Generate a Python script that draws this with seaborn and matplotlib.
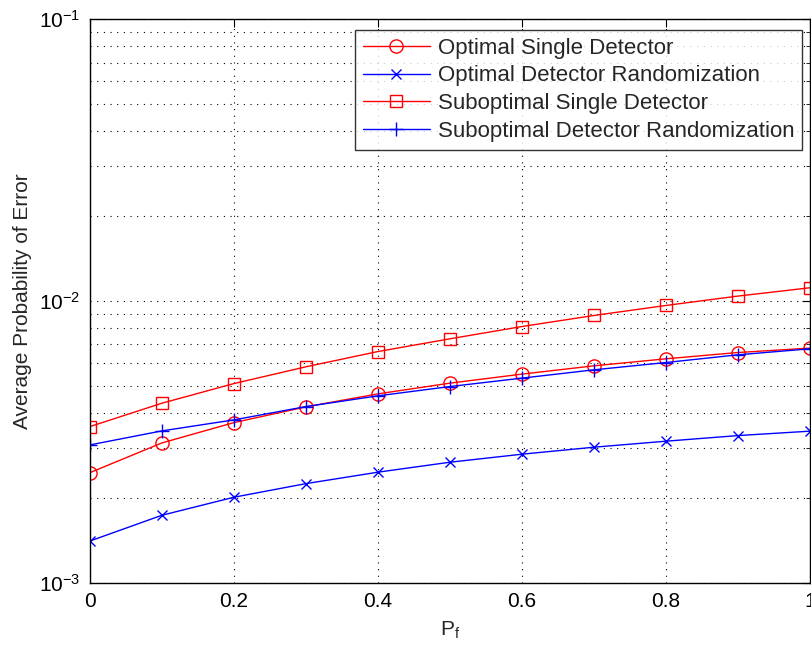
import matplotlib
matplotlib.use("Agg")
import matplotlib.pyplot as plt
import seaborn as sns
import pandas as pd
from matplotlib.ticker import LogLocator, LogFormatterMathtext, FixedLocator

sns.set_style("white")
plt.rcParams["font.family"] = ["Liberation Sans", "DejaVu Sans"]
plt.rcParams["mathtext.fontset"] = "custom"
plt.rcParams["mathtext.rm"] = "Liberation Sans"
plt.rcParams["mathtext.it"] = "Liberation Sans"

# False-alarm probability grid
pf = [0.0, 0.1, 0.2, 0.3, 0.4, 0.5, 0.6, 0.7, 0.8, 0.9, 1.0]

# Average probability of error for each scheme
optimal_single = [0.002455, 0.00313, 0.003695, 0.004202, 0.004673, 0.0051,
                  0.005491, 0.005876, 0.006223, 0.006551, 0.006792]
optimal_random = [0.001404, 0.001733, 0.002008, 0.002244, 0.002464, 0.002673,
                  0.002854, 0.003022, 0.003174, 0.003323, 0.003445]
subopt_single = [0.003577, 0.00433, 0.005083, 0.00583, 0.006604, 0.007328,
                 0.008101, 0.008867, 0.009623, 0.01039, 0.01112]
subopt_random = [0.003079, 0.003453, 0.003778, 0.004212, 0.004598, 0.004961,
                 0.005314, 0.005687, 0.006037, 0.00643, 0.006753]

series_names = ["Optimal Single Detector",
                "Optimal Detector Randomization",
                "Suboptimal Single Detector",
                "Suboptimal Detector Randomization"]
series_values = [optimal_single, optimal_random, subopt_single, subopt_random]
x_ticks = [0, 0.2, 0.4, 0.6, 0.8, 1]
x_tick_labels = ["0", "0.2", "0.4", "0.6", "0.8", "1"]

styles = [
    dict(color="#ff0000", marker="o", markersize=9.5),
    dict(color="#0000ff", marker="x", markersize=7),
    dict(color="#ff0000", marker="s", markersize=8),
    dict(color="#0000ff", marker="+", markersize=10),
]

fig = plt.figure(figsize=(8.12, 6.5), dpi=100)
ax = fig.add_axes([0.1108, 0.1038, 0.8867, 0.867])

for name, vals, st in zip(series_names, series_values, styles):
    df = pd.DataFrame({"Pf": pf, "Pe": vals})
    sns.lineplot(data=df, x="Pf", y="Pe", ax=ax, label=name,
                 color=st["color"], marker=st["marker"],
                 markersize=st["markersize"], markerfacecolor="none",
                 markeredgecolor=st["color"], markeredgewidth=1.0,
                 linewidth=1.0)

ax.set_yscale("log")
ax.set_xlim(0, 1)
ax.set_ylim(1e-3, 1e-1)
ax.xaxis.set_major_locator(FixedLocator(x_ticks))
ax.set_xticklabels(x_tick_labels)
ax.yaxis.set_major_locator(LogLocator(base=10, numticks=5))
ax.yaxis.set_major_formatter(LogFormatterMathtext())
ax.yaxis.set_minor_locator(LogLocator(base=10, subs=range(2, 10), numticks=20))

ax.grid(True, which="major", axis="both", color="black", linestyle=(0, (1, 5)), linewidth=0.8)
ax.grid(True, which="minor", axis="y", color="black", linestyle=(0, (1, 5)), linewidth=0.8)

ax.tick_params(axis="both", which="both", direction="in", top=True, right=True,
               labelsize=15, colors="black", pad=7)
ax.tick_params(which="major", length=6)
ax.tick_params(which="minor", length=3)
for s in ax.spines.values():
    s.set_color("black")
    s.set_linewidth(1.0)

ax.set_xlabel("P$_f$", fontsize=15, labelpad=6)
ax.set_ylabel("Average Probability of Error", fontsize=15, labelpad=5)

leg = ax.legend(loc="upper right", bbox_to_anchor=(0.989, 0.9805), fontsize=16,
                frameon=True, fancybox=False, edgecolor="black",
                handlelength=3.0, borderpad=0.35, labelspacing=0.3,
                handletextpad=0.36, borderaxespad=0)
leg.get_frame().set_linewidth(1.0)

fig.savefig("out.png", dpi=100)
